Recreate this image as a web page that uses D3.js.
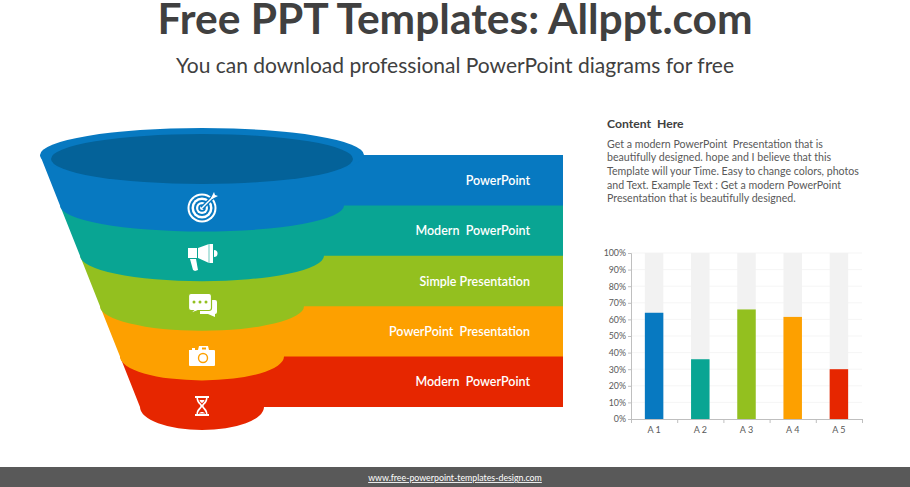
<!DOCTYPE html>
<html>
<head>
<meta charset="utf-8">
<script src="https://cdn.jsdelivr.net/npm/d3@7"></script>
<style>
  html, body { margin: 0; padding: 0; background: #fff; }
  svg { display: block; }
  text { white-space: pre; }
</style>
</head>
<body>
<svg id="chart"></svg>
<script>
const titleText = "Free PPT Templates: Allppt.com";
const subtitleText = "You can download professional PowerPoint diagrams for free";
const footerText = "www.free-powerpoint-templates-design.com";
const contentTitle = "Content  Here";
const contentLines = [
    "Get a modern PowerPoint  Presentation that is",
    "beautifully designed. hope and I believe that this",
    "Template will your Time. Easy to change colors, photos",
    "and Text. Example Text : Get a modern PowerPoint",
    "Presentation that is beautifully designed."
];

const bandLabels = ["PowerPoint", "Modern  PowerPoint", "Simple Presentation", "PowerPoint  Presentation", "Modern  PowerPoint"];
const colors = ["#0779c1", "#09a593", "#93c01f", "#fda000", "#e62600"];
const icons = ["target", "megaphone", "chat", "camera", "hourglass"];

const barCategories = ["A 1", "A 2", "A 3", "A 4", "A 5"];
const barValues = [64, 36, 66, 61.5, 30];
const barTicks = [0, 10, 20, 30, 40, 50, 60, 70, 80, 90, 100];

const width = 910;
const height = 487;
const svg = d3.select("#chart").attr("width", width).attr("height", height);

// header + footer
svg.append("text").attr("x", 455).attr("y", 34).attr("text-anchor", "middle")
    .style("font", "bold 42.5px Lato").attr("fill", "#404040").text(titleText);
svg.append("text").attr("x", 455).attr("y", 73).attr("text-anchor", "middle")
    .style("font", "21px Lato").attr("fill", "#404040").text(subtitleText);
svg.append("rect").attr("x", 0).attr("y", 467).attr("width", width).attr("height", 20).attr("fill", "#595959");
svg.append("text").attr("x", 455).attr("y", 481).attr("text-anchor", "middle")
    .style("font", "8.8px Lato").attr("fill", "#fff").attr("text-decoration", "underline").text(footerText);

// funnel
const cx = 202;
const barRight = 563;
const y = d3.scaleBand().domain(d3.range(bandLabels.length)).range([155, 407]);
const halfWidth = d3.scaleLinear().domain([155, 407]).range([162, 62]);
const arcDepth = d3.scaleLinear().domain([62, 162]).range([23, 27]);

const funnel = svg.append("g");

function bandPath(i) {
    const top = y(i), bottom = top + y.bandwidth();
    const hwTop = halfWidth(top), hwBottom = halfWidth(bottom);
    const ry = arcDepth(hwBottom);
    // lower bands reach 1px under the band above, avoids a white seam
    const barTop = i === 0 ? top : top - 1;
    return `M${cx - hwTop},${top}L${cx - hwBottom},${bottom}` +
        `A${hwBottom},${ry} 0 0 0 ${cx + hwBottom},${bottom}` +
        `L${barRight},${bottom}L${barRight},${barTop}L${cx},${barTop}Z`;
}

// bottom band first so every upper arc sits on the one below
funnel.selectAll("path.band")
    .data(d3.range(bandLabels.length).reverse())
    .enter().append("path")
    .attr("class", "band")
    .attr("d", bandPath)
    .attr("fill", d => colors[d]);

const rim = halfWidth(155);
funnel.append("ellipse").attr("cx", cx).attr("cy", 155).attr("rx", rim).attr("ry", arcDepth(rim)).attr("fill", colors[0]);
funnel.append("ellipse").attr("cx", cx).attr("cy", 159).attr("rx", 151).attr("ry", 25).attr("fill", "#046299");

funnel.selectAll("text.label")
    .data(bandLabels)
    .enter().append("text")
    .attr("class", "label")
    .attr("x", 530)
    .attr("y", (d, i) => y(i) + y.bandwidth() / 2 + 4.5)
    .attr("text-anchor", "end")
    .style("font", "600 12.5px Lato")
    .attr("fill", "#fff")
    .text(d => d);

// icons, each drawn around 0,0
const iconDraw = {
    target(g, bg) {
        g.append("circle").attr("r", 14.5).attr("fill", "#fff");
        g.append("circle").attr("r", 12.5).attr("fill", bg);
        g.append("circle").attr("r", 10.5).attr("fill", "#fff");
        g.append("circle").attr("r", 8).attr("fill", bg);
        g.append("circle").attr("r", 6).attr("fill", "#fff");
        g.append("circle").attr("r", 3.8).attr("fill", bg);
        g.append("circle").attr("r", 2).attr("fill", "#fff");
        g.append("path").attr("d", "M0,0L13,-13").attr("stroke", bg).attr("stroke-width", 4);
        g.append("path").attr("d", "M0,0L11,-11").attr("stroke", "#fff").attr("stroke-width", 1.5);
        g.append("path").attr("d", "M9,-10L12,-16L13,-13L16,-12L10,-9Z").attr("fill", "#fff");
    },
    megaphone(g, bg) {
        g.append("path").attr("fill", "#fff").attr("d", "M-14,-9H-5V1H-14Z");
        g.append("path").attr("fill", "#fff").attr("d", "M-4,-9L7,-13H11V6H7L-4,1Z");
        g.append("path").attr("stroke", bg).attr("stroke-width", 0.6).attr("d", "M7,-13V6");
        g.append("path").attr("fill", "#fff").attr("d", "M12,-7A3.5,3.5 0 0 1 12,0Z");
        g.append("path").attr("fill", "#fff").attr("d", "M-12,2H-6L-4,13L-7,14L-9,13Z");
    },
    chat(g, bg) {
        g.append("path").attr("fill", "#fff")
            .attr("d", "M-2,-6H13Q15,-6 15,-4V6Q15,8 13,8V11L6,8H-2Z");
        g.append("path").attr("fill", "#fff").attr("stroke", bg).attr("stroke-width", 1.2)
            .attr("d", "M-11,-12.5H7Q9.5,-12.5 9.5,-10V2Q9.5,4.5 7,4.5H-4L-13,8L-9,4.5H-11Q-13.5,4.5 -13.5,2V-10Q-13.5,-12.5 -11,-12.5Z");
        g.selectAll("circle").data([-8, -2, 4]).enter().append("circle")
            .attr("cx", d => d).attr("cy", -4).attr("r", 1.5).attr("fill", bg);
    },
    camera(g, bg) {
        g.append("path").attr("fill", "#fff")
            .attr("d", "M-13,-6H-10V-8H-7V-6H-4L-3,-10H6L7,-6H12Q13,-6 13,-5V9Q13,10 12,10H-12Q-13,10 -13,9Z");
        g.append("rect").attr("x", 0).attr("y", -8.5).attr("width", 4).attr("height", 2).attr("fill", bg);
        g.append("circle").attr("cx", 1).attr("cy", 2).attr("r", 5.2).attr("fill", bg);
        g.append("circle").attr("cx", 1).attr("cy", 2).attr("r", 3.8).attr("fill", "#fff");
    },
    hourglass(g, bg) {
        g.append("path").attr("fill", "#fff")
            .attr("d", "M-7,-10H7V-8H5.5C5.5,-3 2,-2 1.5,0C2,2 5.5,3 5.5,8H7V10H-7V8H-5.5C-5.5,3 -2,2 -1.5,0C-2,-2 -5.5,-3 -5.5,-8H-7Z");
        g.append("path").attr("fill", bg)
            .attr("d", "M-4,-8H4C4,-5 1,-3 0,-1C-1,-3 -4,-5 -4,-8Z");
        g.append("path").attr("fill", "#fff")
            .attr("d", "M-2.5,-6H2.5C2,-4.5 1,-3.5 0,-3C-1,-3.5 -2,-4.5 -2.5,-6Z");
        g.append("path").attr("fill", bg)
            .attr("d", "M0,1C1,3 4,5 4,8H-4C-4,5 -1,3 0,1Z");
        g.append("path").attr("fill", "#fff")
            .attr("d", "M-3,7.5C-2,5.5 2,5.5 3,7.5Z");
    }
};

const iconY = [208, 257, 306, 356, 406];
icons.forEach((name, i) => {
    const g = svg.append("g").attr("transform", `translate(${cx},${iconY[i]})`);
    iconDraw[name](g, colors[i]);
});

// text block
svg.append("text").attr("x", 607).attr("y", 128)
    .style("font", "bold 12.2px Lato").attr("fill", "#404040").text(contentTitle);
svg.selectAll("text.body")
    .data(contentLines)
    .enter().append("text")
    .attr("class", "body")
    .attr("x", 607)
    .attr("y", (d, i) => 147.5 + i * 13.7)
    .style("font", "10.6px Lato")
    .attr("fill", "#595959")
    .text(d => d);

// small bar chart
const chart = svg.append("g");
const xBars = d3.scaleBand().domain(barCategories).range([631, 862]).paddingInner(0.6).paddingOuter(0.3);
const xEdges = d3.scaleLinear().domain([0, barCategories.length]).range([631, 862]);
const yBars = d3.scaleLinear().domain([0, 100]).range([419, 253]);

chart.selectAll("line.grid")
    .data(barTicks.slice(1))
    .enter().append("line")
    .attr("class", "grid")
    .attr("x1", 631).attr("x2", 862)
    .attr("y1", d => yBars(d)).attr("y2", d => yBars(d))
    .attr("stroke", "#f5f5f5");

chart.selectAll("rect.bg")
    .data(barCategories)
    .enter().append("rect")
    .attr("class", "bg")
    .attr("x", d => xBars(d)).attr("width", xBars.bandwidth())
    .attr("y", yBars(100)).attr("height", yBars(0) - yBars(100))
    .attr("fill", "#f2f2f2");

chart.selectAll("rect.bar")
    .data(barValues)
    .enter().append("rect")
    .attr("class", "bar")
    .attr("x", (d, i) => xBars(barCategories[i])).attr("width", xBars.bandwidth())
    .attr("y", d => yBars(d)).attr("height", d => yBars(0) - yBars(d))
    .attr("fill", (d, i) => colors[i]);

const yAxis = chart.append("g").attr("transform", "translate(631,0)")
    .call(d3.axisLeft(yBars).tickValues(barTicks).tickFormat(d => d + "%").tickSize(3).tickPadding(2));
const xTicks = chart.append("g").attr("transform", "translate(0,419)")
    .call(d3.axisBottom(xEdges).ticks(barCategories.length).tickFormat("").tickSize(4));
const xLabels = chart.append("g").attr("transform", "translate(0,419)")
    .call(d3.axisBottom(xBars).tickSize(0).tickPadding(8));
xLabels.select(".domain").remove();

[yAxis, xTicks].forEach(a => {
    a.selectAll(".domain, line").attr("stroke", "#bfbfbf");
});
yAxis.selectAll("text").style("font", "8.8px Lato").attr("fill", "#595959");
xLabels.selectAll("text").style("font", "9px Lato").attr("fill", "#595959");
</script>
</body>
</html>
